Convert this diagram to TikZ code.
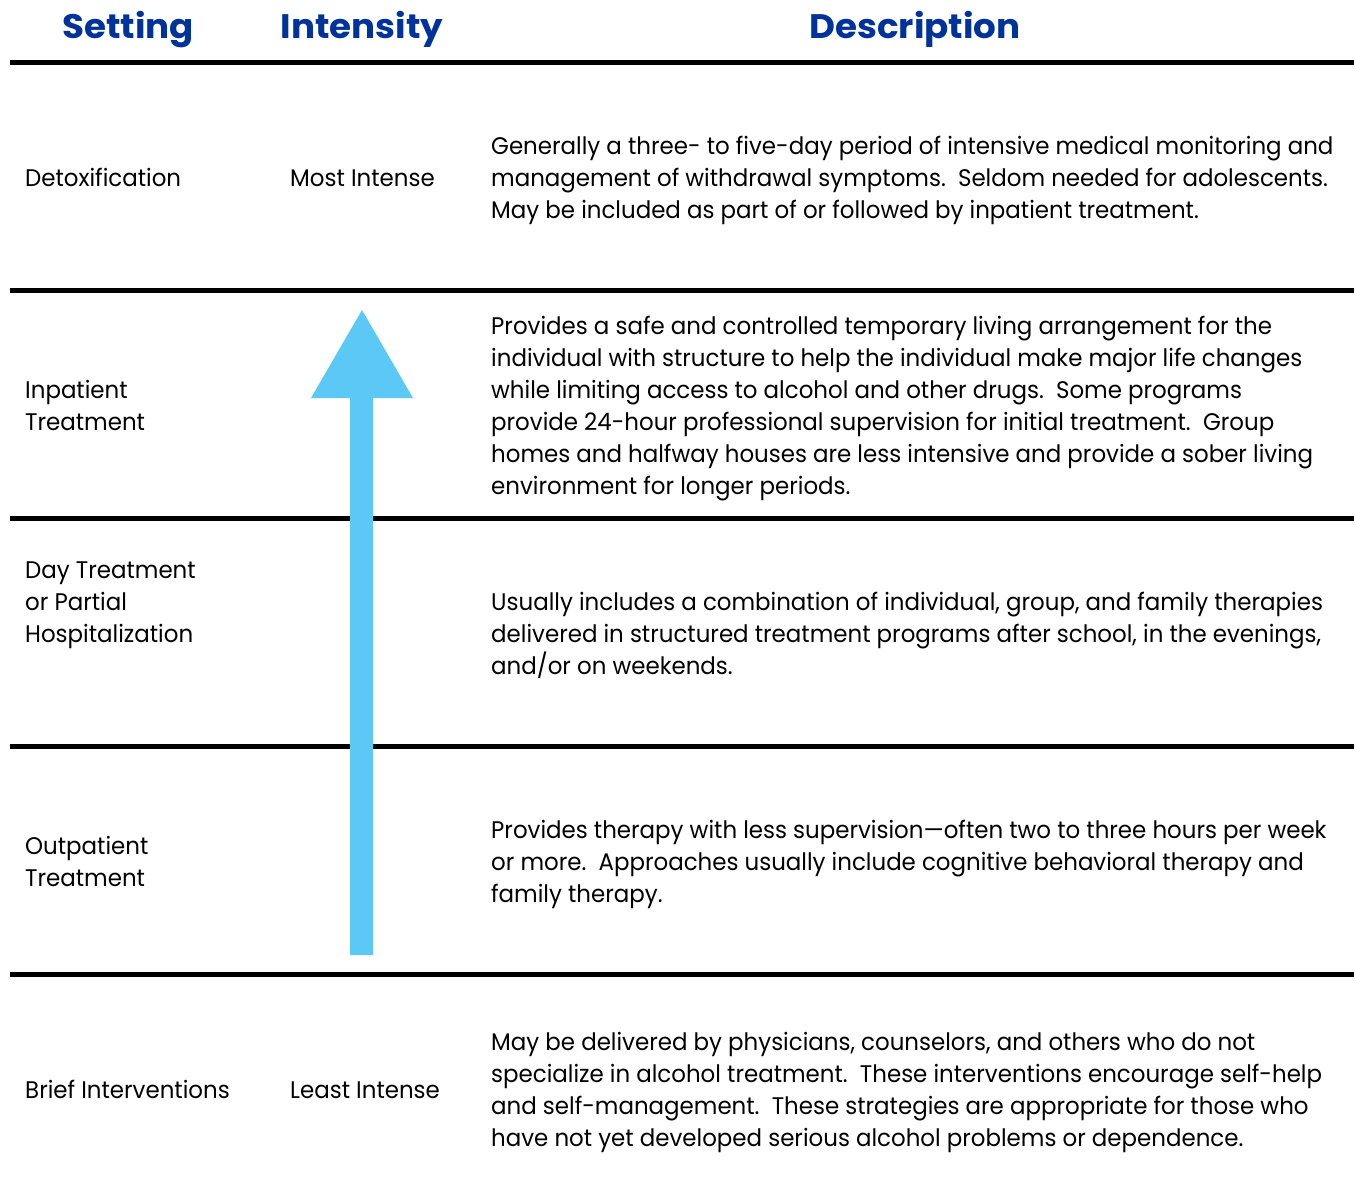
\documentclass[tikz,border=0pt]{standalone}
\usepackage{fontspec}
\setmainfont{Poppins}[FakeStretch=0.955]
\newfontfamily\headfont{Poppins}[FakeStretch=1.05]
\definecolor{headblue}{RGB}{0,51,153}
\definecolor{arrowblue}{RGB}{91,200,245}
\begin{document}
\begin{tikzpicture}[x=1pt,y=-1pt,
  rule/.style={line width=5pt,black},
  txt/.style={anchor=base west,inner sep=0pt,font=\fontsize{24}{32}\selectfont},
  hdr/.style={anchor=base,inner sep=0pt,text=headblue,font=\headfont\bfseries\fontsize{34}{40}\selectfont}]
\useasboundingbox (0,0) rectangle (1355,1197);
% headers
\node[hdr] (hs) at (128,38) {Setting};
\node[hdr] (hi) at (362,38) {Intensity};
\node[hdr] (hd) at (915,38) {Description};
% rules
\foreach \y/\n in {62/r0,290/r1,518/r2,746/r3,974/r4}{
  \coordinate (\n a) at (10,\y); \coordinate (\n b) at (1354,\y);
  \draw[rule] (\n a) -- (\n b);
}
% arrow
\coordinate (s1) at (350,955); \coordinate (s2) at (373,955);
\coordinate (s3) at (373,398); \coordinate (s4) at (413,398);
\coordinate (tip) at (362,310); \coordinate (s6) at (311,398);
\coordinate (s7) at (350,398);
\fill[arrowblue] (s1) -- (s2) -- (s3) -- (s4) -- (tip) -- (s6) -- (s7) -- cycle;
% row 1
\node[txt] (set1) at (25,186) {Detoxification};
\node[txt] (int1) at (290,186) {Most Intense};
\node[txt] (d1a) at (491,154) {Generally a three- to five-day period of intensive medical monitoring and};
\node[txt] (d1b) at (491,186) {management of withdrawal symptoms.\ \ Seldom needed for adolescents.};
\node[txt] (d1c) at (491,218) {May be included as part of or followed by inpatient treatment.};
% row 2
\node[txt] (set2a) at (25,398) {Inpatient};
\node[txt] (set2b) at (25,430) {Treatment};
\node[txt] (d2a) at (491,334) {Provides a safe and controlled temporary living arrangement for the};
\node[txt] (d2b) at (491,366) {individual with structure to help the individual make major life changes};
\node[txt] (d2c) at (491,398) {while limiting access to alcohol and other drugs.\ \ Some programs};
\node[txt] (d2d) at (491,430) {provide 24-hour professional supervision for initial treatment.\ \ Group};
\node[txt] (d2e) at (491,462) {homes and halfway houses are less intensive and provide a sober living};
\node[txt] (d2f) at (491,494) {environment for longer periods.};
% row 3
\node[txt] (set3a) at (25,578) {Day Treatment};
\node[txt] (set3b) at (25,610) {or Partial};
\node[txt] (set3c) at (25,642) {Hospitalization};
\node[txt] (d3a) at (491,610) {Usually includes a combination of individual, group, and family therapies};
\node[txt] (d3b) at (491,642) {delivered in structured treatment programs after school, in the evenings,};
\node[txt] (d3c) at (491,674) {and/or on weekends.};
% row 4
\node[txt] (set4a) at (25,854) {Outpatient};
\node[txt] (set4b) at (25,886) {Treatment};
\node[txt] (d4a) at (491,838) {Provides therapy with less supervision---often two to three hours per week};
\node[txt] (d4b) at (491,870) {or more.\ \ Approaches usually include cognitive behavioral therapy and};
\node[txt] (d4c) at (491,902) {family therapy.};
% row 5
\node[txt] (set5) at (25,1098) {Brief Interventions};
\node[txt] (int5) at (290,1098) {Least Intense};
\node[txt] (d5a) at (491,1050) {May be delivered by physicians, counselors, and others who do not};
\node[txt] (d5b) at (491,1082) {specialize in alcohol treatment.\ \ These interventions encourage self-help};
\node[txt] (d5c) at (491,1114) {and self-management.\ \ These strategies are appropriate for those who};
\node[txt] (d5d) at (491,1146) {have not yet developed serious alcohol problems or dependence.};
\end{tikzpicture}
\end{document}
